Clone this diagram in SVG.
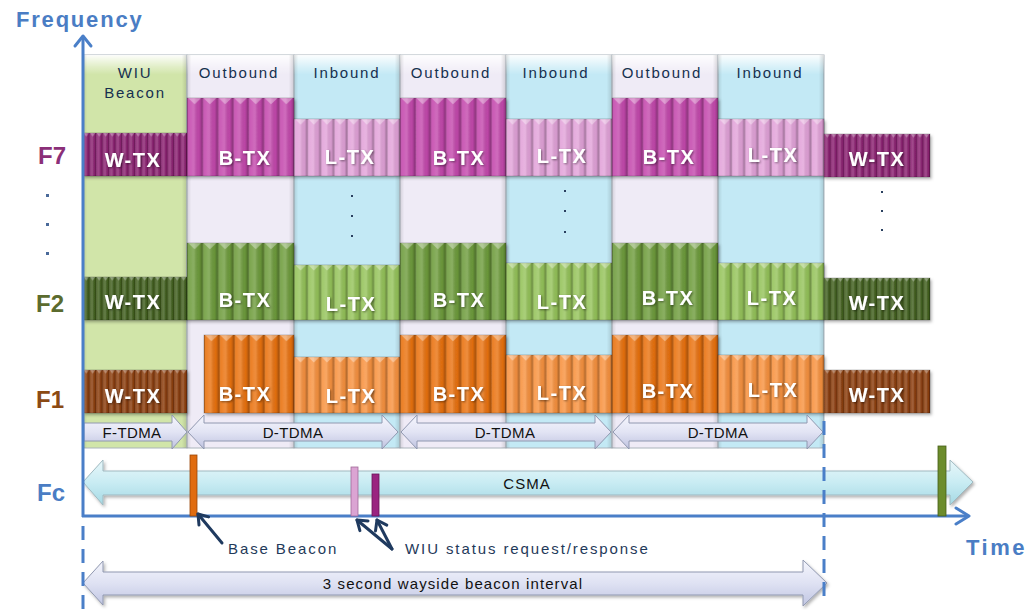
<svg xmlns="http://www.w3.org/2000/svg" width="1029" height="610" viewBox="0 0 1029 610">
<defs>
<style>
.hdr{font-family:"Liberation Sans",Arial,sans-serif;font-size:15px;fill:#16304f;letter-spacing:1.8px;text-anchor:middle}
.tx{font-family:"Liberation Sans",Arial,sans-serif;font-size:20px;font-weight:bold;fill:#fff;text-anchor:middle;letter-spacing:1.5px}
.flab{font-family:"Liberation Sans",Arial,sans-serif;font-size:24px;font-weight:bold}
.tdma{font-family:"Liberation Sans",Arial,sans-serif;font-size:15px;fill:#111;text-anchor:middle;letter-spacing:0.4px}
.ann{font-family:"Liberation Sans",Arial,sans-serif;font-size:15px;fill:#1f3a5a;letter-spacing:1.9px}
.axis{stroke:#4a7fc8;stroke-width:3;fill:none}
.dash{stroke:#4a7fc8;stroke-width:3;fill:none;stroke-dasharray:14 9}
.col{stroke:#aab3bb;stroke-width:1}
.bar{stroke:rgba(0,0,0,0.25);stroke-width:0.8}
.conn{stroke:#1f3a5f;stroke-width:3;fill:none;stroke-linecap:round;stroke-linejoin:round}
.dot{fill:#4a6a9a}
.cdot{fill:#2a4060}
.tdarrow{fill:url(#tdG);stroke:#9098b0;stroke-width:1}
</style>
<linearGradient id="ribG" x1="0" y1="0" x2="1" y2="0">
<stop offset="0" stop-color="#000" stop-opacity="0.35"/>
<stop offset="0.12" stop-color="#fff" stop-opacity="0.1"/>
<stop offset="0.45" stop-color="#fff" stop-opacity="0.2"/>
<stop offset="0.8" stop-color="#000" stop-opacity="0.04"/>
<stop offset="1" stop-color="#000" stop-opacity="0.3"/>
</linearGradient>
<pattern id="p6" patternUnits="objectBoundingBox" patternContentUnits="objectBoundingBox" width="0.166667" height="1">
<rect x="0" y="0" width="0.166667" height="1" fill="url(#ribG)"/>
<polygon points="0.01,0 0.156667,0 0.083333,0.08" fill="#fff" fill-opacity="0.35"/>
</pattern>
<pattern id="p7" patternUnits="objectBoundingBox" patternContentUnits="objectBoundingBox" width="0.142857" height="1">
<rect x="0" y="0" width="0.142857" height="1" fill="url(#ribG)"/>
<polygon points="0.01,0 0.132857,0 0.071428,0.08" fill="#fff" fill-opacity="0.35"/>
</pattern>
<pattern id="p8" patternUnits="objectBoundingBox" patternContentUnits="objectBoundingBox" width="0.125" height="1">
<rect x="0" y="0" width="0.125" height="1" fill="url(#ribG)"/>
<polygon points="0.01,0 0.115,0 0.0625,0.1" fill="#fff" fill-opacity="0.35"/>
</pattern>
<pattern id="p16" patternUnits="objectBoundingBox" patternContentUnits="objectBoundingBox" width="0.0625" height="1">
<rect x="0" y="0" width="0.0625" height="1" fill="url(#ribG)"/>
<polygon points="0.005,0 0.0575,0 0.03125,0.09" fill="#fff" fill-opacity="0.3"/>
</pattern>
<linearGradient id="colTop" x1="0" y1="0" x2="0" y2="1">
<stop offset="0" stop-color="#fff" stop-opacity="0.95"/>
<stop offset="0.03" stop-color="#fff" stop-opacity="0.35"/>
<stop offset="0.05" stop-color="#fff" stop-opacity="0"/>
<stop offset="1" stop-color="#fff" stop-opacity="0"/>
</linearGradient>
<linearGradient id="colSide" x1="0" y1="0" x2="1" y2="0">
<stop offset="0" stop-color="#000" stop-opacity="0.12"/>
<stop offset="0.04" stop-color="#000" stop-opacity="0"/>
<stop offset="0.95" stop-color="#000" stop-opacity="0"/>
<stop offset="1" stop-color="#000" stop-opacity="0.14"/>
</linearGradient>
<linearGradient id="tdG" x1="0" y1="0" x2="0" y2="1">
<stop offset="0" stop-color="#f6f6fd"/>
<stop offset="0.5" stop-color="#e2e4f4"/>
<stop offset="1" stop-color="#bfc3e0"/>
</linearGradient>
<linearGradient id="csG" x1="0" y1="0" x2="0" y2="1">
<stop offset="0" stop-color="#e8f7fa"/>
<stop offset="0.5" stop-color="#c9ecf3"/>
<stop offset="1" stop-color="#a5d9e4"/>
</linearGradient>
<linearGradient id="wbG" x1="0" y1="0" x2="0" y2="1">
<stop offset="0" stop-color="#f4f5fc"/>
<stop offset="0.5" stop-color="#dfe2f3"/>
<stop offset="1" stop-color="#c0c5e2"/>
</linearGradient>
<filter id="sh" x="-10%" y="-10%" width="125%" height="130%">
<feDropShadow dx="1.5" dy="2" stdDeviation="1.5" flood-color="#000" flood-opacity="0.3"/>
</filter>
<filter id="tsh" x="-10%" y="-20%" width="130%" height="150%">
<feDropShadow dx="1" dy="1" stdDeviation="0.8" flood-color="#000" flood-opacity="0.45"/>
</filter>
</defs>
<rect x="0" y="0" width="1029" height="610" fill="#fff"/>

<g id="columns">
<g id="col-wiu"><rect class="col" x="83" y="55" width="104" height="393" fill="#d1e5a9"/><rect x="83" y="55" width="104" height="393" fill="url(#colTop)"/><rect x="83" y="55" width="104" height="393" fill="url(#colSide)"/><text class="hdr" x="135" y="78">WIU</text><text class="hdr" x="135" y="98">Beacon</text></g>
<g id="col-out1"><rect class="col" x="187" y="55" width="107" height="393" fill="#efebf6"/><rect x="187" y="55" width="107" height="393" fill="url(#colTop)"/><rect x="187" y="55" width="107" height="393" fill="url(#colSide)"/><text class="hdr" x="239" y="78">Outbound</text></g>
<g id="col-in1"><rect class="col" x="294" y="55" width="106" height="393" fill="#c3e9f5"/><rect x="294" y="55" width="106" height="393" fill="url(#colTop)"/><rect x="294" y="55" width="106" height="393" fill="url(#colSide)"/><text class="hdr" x="347" y="78">Inbound</text></g>
<g id="col-out2"><rect class="col" x="400" y="55" width="106" height="393" fill="#efebf6"/><rect x="400" y="55" width="106" height="393" fill="url(#colTop)"/><rect x="400" y="55" width="106" height="393" fill="url(#colSide)"/><text class="hdr" x="451" y="78">Outbound</text></g>
<g id="col-in2"><rect class="col" x="506" y="55" width="106" height="393" fill="#c3e9f5"/><rect x="506" y="55" width="106" height="393" fill="url(#colTop)"/><rect x="506" y="55" width="106" height="393" fill="url(#colSide)"/><text class="hdr" x="556" y="78">Inbound</text></g>
<g id="col-out3"><rect class="col" x="612" y="55" width="106" height="393" fill="#efebf6"/><rect x="612" y="55" width="106" height="393" fill="url(#colTop)"/><rect x="612" y="55" width="106" height="393" fill="url(#colSide)"/><text class="hdr" x="662" y="78">Outbound</text></g>
<g id="col-in3"><rect class="col" x="718" y="55" width="106" height="393" fill="#c3e9f5"/><rect x="718" y="55" width="106" height="393" fill="url(#colTop)"/><rect x="718" y="55" width="106" height="393" fill="url(#colSide)"/><text class="hdr" x="770" y="78">Inbound</text></g>
</g>

<g id="dots">
<rect class="dot" x="46" y="194" width="3" height="3"/>
<rect class="dot" x="46" y="223" width="3" height="3"/>
<rect class="dot" x="46" y="252" width="3" height="3"/>
<rect class="cdot" x="351" y="195" width="2" height="2"/>
<rect class="cdot" x="351" y="215" width="2" height="2"/>
<rect class="cdot" x="351" y="235" width="2" height="2"/>
<rect class="cdot" x="564" y="190" width="2" height="2"/>
<rect class="cdot" x="564" y="210" width="2" height="2"/>
<rect class="cdot" x="564" y="231" width="2" height="2"/>
<rect class="cdot" x="881" y="191" width="2" height="2"/>
<rect class="cdot" x="881" y="210" width="2" height="2"/>
<rect class="cdot" x="881" y="229" width="2" height="2"/>
</g>

<g id="row-f7">
<g id="f7-wtx-1" filter="url(#sh)"><rect class="bar" x="83" y="133" width="104" height="43" fill="#8c2272"/><rect x="83" y="133" width="104" height="43" fill="url(#p16)"/></g>
<g id="f7-btx-1" filter="url(#sh)"><rect class="bar" x="187" y="98" width="107" height="78" fill="#c448ad"/><rect x="187" y="98" width="107" height="78" fill="url(#p7)"/></g>
<g id="f7-ltx-1" filter="url(#sh)"><rect class="bar" x="294" y="119" width="106" height="57" fill="#e2a2d9"/><rect x="294" y="119" width="106" height="57" fill="url(#p8)"/></g>
<g id="f7-btx-2" filter="url(#sh)"><rect class="bar" x="400" y="98" width="106" height="78" fill="#c448ad"/><rect x="400" y="98" width="106" height="78" fill="url(#p7)"/></g>
<g id="f7-ltx-2" filter="url(#sh)"><rect class="bar" x="506" y="119" width="106" height="57" fill="#e2a2d9"/><rect x="506" y="119" width="106" height="57" fill="url(#p8)"/></g>
<g id="f7-btx-3" filter="url(#sh)"><rect class="bar" x="612" y="98" width="106" height="78" fill="#c448ad"/><rect x="612" y="98" width="106" height="78" fill="url(#p7)"/></g>
<g id="f7-ltx-3" filter="url(#sh)"><rect class="bar" x="718" y="119" width="106" height="57" fill="#e2a2d9"/><rect x="718" y="119" width="106" height="57" fill="url(#p8)"/></g>
<g id="f7-wtx-2" filter="url(#sh)"><rect class="bar" x="824" y="134" width="106" height="43" fill="#8c2272"/><rect x="824" y="134" width="106" height="43" fill="url(#p16)"/></g>
</g>

<g id="row-f2">
<g id="f2-wtx-1" filter="url(#sh)"><rect class="bar" x="83" y="277" width="104" height="43" fill="#42601f"/><rect x="83" y="277" width="104" height="43" fill="url(#p16)"/></g>
<g id="f2-btx-1" filter="url(#sh)"><rect class="bar" x="187" y="243" width="107" height="77" fill="#6e9c3c"/><rect x="187" y="243" width="107" height="77" fill="url(#p7)"/></g>
<g id="f2-ltx-1" filter="url(#sh)"><rect class="bar" x="294" y="265" width="106" height="55" fill="#95c35a"/><rect x="294" y="265" width="106" height="55" fill="url(#p8)"/></g>
<g id="f2-btx-2" filter="url(#sh)"><rect class="bar" x="400" y="243" width="106" height="77" fill="#6e9c3c"/><rect x="400" y="243" width="106" height="77" fill="url(#p7)"/></g>
<g id="f2-ltx-2" filter="url(#sh)"><rect class="bar" x="506" y="263" width="106" height="57" fill="#95c35a"/><rect x="506" y="263" width="106" height="57" fill="url(#p8)"/></g>
<g id="f2-btx-3" filter="url(#sh)"><rect class="bar" x="612" y="243" width="106" height="77" fill="#6e9c3c"/><rect x="612" y="243" width="106" height="77" fill="url(#p7)"/></g>
<g id="f2-ltx-3" filter="url(#sh)"><rect class="bar" x="718" y="263" width="106" height="57" fill="#95c35a"/><rect x="718" y="263" width="106" height="57" fill="url(#p8)"/></g>
<g id="f2-wtx-2" filter="url(#sh)"><rect class="bar" x="824" y="278" width="106" height="42" fill="#42601f"/><rect x="824" y="278" width="106" height="42" fill="url(#p16)"/></g>
</g>

<g id="row-f1">
<g id="f1-wtx-1" filter="url(#sh)"><rect class="bar" x="83" y="370" width="104" height="43" fill="#8c3e0e"/><rect x="83" y="370" width="104" height="43" fill="url(#p16)"/></g>
<g id="f1-btx-1" filter="url(#sh)"><rect class="bar" x="204" y="335" width="90" height="78" fill="#ea720f"/><rect x="204" y="335" width="90" height="78" fill="url(#p6)"/></g>
<g id="f1-ltx-1" filter="url(#sh)"><rect class="bar" x="294" y="357" width="106" height="56" fill="#f8923f"/><rect x="294" y="357" width="106" height="56" fill="url(#p8)"/></g>
<g id="f1-btx-2" filter="url(#sh)"><rect class="bar" x="400" y="335" width="106" height="78" fill="#ea720f"/><rect x="400" y="335" width="106" height="78" fill="url(#p7)"/></g>
<g id="f1-ltx-2" filter="url(#sh)"><rect class="bar" x="506" y="355" width="106" height="58" fill="#f8923f"/><rect x="506" y="355" width="106" height="58" fill="url(#p8)"/></g>
<g id="f1-btx-3" filter="url(#sh)"><rect class="bar" x="612" y="335" width="106" height="78" fill="#ea720f"/><rect x="612" y="335" width="106" height="78" fill="url(#p7)"/></g>
<g id="f1-ltx-3" filter="url(#sh)"><rect class="bar" x="718" y="355" width="106" height="58" fill="#f8923f"/><rect x="718" y="355" width="106" height="58" fill="url(#p8)"/></g>
<g id="f1-wtx-2" filter="url(#sh)"><rect class="bar" x="824" y="370" width="106" height="43" fill="#8c3e0e"/><rect x="824" y="370" width="106" height="43" fill="url(#p16)"/></g>
</g>

<g id="bar-labels" filter="url(#tsh)">
<text class="tx" x="133" y="167">W-TX</text>
<text class="tx" x="245" y="165">B-TX</text>
<text class="tx" x="350" y="164">L-TX</text>
<text class="tx" x="459" y="165">B-TX</text>
<text class="tx" x="562" y="163">L-TX</text>
<text class="tx" x="669" y="164">B-TX</text>
<text class="tx" x="773" y="162">L-TX</text>
<text class="tx" x="877" y="166">W-TX</text>
<text class="tx" x="133" y="309">W-TX</text>
<text class="tx" x="245" y="307">B-TX</text>
<text class="tx" x="351" y="311">L-TX</text>
<text class="tx" x="459" y="307">B-TX</text>
<text class="tx" x="562" y="309">L-TX</text>
<text class="tx" x="668" y="305">B-TX</text>
<text class="tx" x="772" y="305">L-TX</text>
<text class="tx" x="877" y="310">W-TX</text>
<text class="tx" x="133" y="403">W-TX</text>
<text class="tx" x="245" y="401">B-TX</text>
<text class="tx" x="351" y="403">L-TX</text>
<text class="tx" x="459" y="401">B-TX</text>
<text class="tx" x="562" y="400">L-TX</text>
<text class="tx" x="668" y="398">B-TX</text>
<text class="tx" x="773" y="397">L-TX</text>
<text class="tx" x="877" y="402">W-TX</text>
</g>

<g id="tdma">
<g id="f-tdma"><path class="tdarrow" d="M84,423 L172,423 L172,415 L187,432 L172,449 L172,441 L84,441 Z"/><text class="tdma" x="132" y="438">F-TDMA</text></g>
<g id="d-tdma-1"><path class="tdarrow" d="M188,432 L204,415 L204,423 L382,423 L382,415 L398,432 L382,449 L382,441 L204,441 L204,449 Z"/><text class="tdma" x="293" y="438">D-TDMA</text></g>
<g id="d-tdma-2"><path class="tdarrow" d="M401,432 L417,415 L417,423 L595,423 L595,415 L611,432 L595,449 L595,441 L417,441 L417,449 Z"/><text class="tdma" x="505" y="438">D-TDMA</text></g>
<g id="d-tdma-3"><path class="tdarrow" d="M613,432 L629,415 L629,423 L807,423 L807,415 L823,432 L807,449 L807,441 L629,441 L629,449 Z"/><text class="tdma" x="718" y="438">D-TDMA</text></g>
</g>

<g id="csma"><path d="M83,482 L103,460 L103,471 L950,471 L950,460 L973,482 L950,505 L950,495 L103,495 L103,505 Z" fill="url(#csG)" stroke="#9fb9c0" stroke-width="1" filter="url(#sh)"/><text class="tdma" x="527" y="489" style="letter-spacing:1px">CSMA</text></g>

<g id="interval"><path d="M83,583 L103,561 L103,572 L803,572 L803,560 L827,583 L803,606 L803,595 L103,595 L103,605 Z" fill="url(#wbG)" stroke="#9098b0" stroke-width="1" filter="url(#sh)"/><text x="453" y="589" style="font-family:'Liberation Sans',Arial,sans-serif;font-size:15px;fill:#111;letter-spacing:1.1px;text-anchor:middle">3 second wayside beacon interval</text></g>

<g id="axes">
<line class="axis" x1="83" y1="37" x2="83" y2="517"/>
<polyline class="axis" points="75,46 83,36 91,46" stroke-linecap="round" stroke-linejoin="round"/>
<line class="axis" x1="82" y1="516" x2="968" y2="516"/>
<polyline class="axis" points="956,508 969,516 956,524" stroke-linecap="round" stroke-linejoin="round"/>
<line class="dash" x1="83" y1="526" x2="83" y2="610"/>
<line class="dash" x1="824" y1="421" x2="824" y2="602"/>
<text x="16" y="27" style="font-family:'Liberation Sans',Arial,sans-serif;font-size:22px;font-weight:bold;fill:#4a7dc4;letter-spacing:1.8px">Frequency</text>
<text x="966" y="555" style="font-family:'Liberation Sans',Arial,sans-serif;font-size:22px;font-weight:bold;fill:#4a7dc4;letter-spacing:2.5px">Time</text>
</g>

<g id="freq-labels">
<text class="flab" x="38" y="164" fill="#8b2f78">F7</text>
<text class="flab" x="36" y="312" fill="#5b6b2e">F2</text>
<text class="flab" x="36" y="408" fill="#8b4a14">F1</text>
<text class="flab" x="37" y="501" fill="#4a7dc4">Fc</text>
</g>

<g id="events">
<g id="base-beacon"><rect x="190" y="455" width="7" height="61" fill="#e06c10" stroke="#9a4608" stroke-width="0.8"/></g>
<g id="wiu-request"><rect x="351" y="467" width="7" height="49" fill="#dba4d3" stroke="#a06a98" stroke-width="0.8"/></g>
<g id="wiu-response"><rect x="372" y="474" width="7" height="42" fill="#9a2480" stroke="#6a1558" stroke-width="0.8"/></g>
<g id="next-beacon"><rect x="938" y="446" width="8" height="70" fill="#6c8c2c" stroke="#465e18" stroke-width="0.8"/></g>
</g>

<g id="connectors">
<line class="conn" x1="222" y1="543" x2="198" y2="514"/>
<polyline class="conn" points="199,525 198,514 208.6,516.9"/>
<line class="conn" x1="392" y1="549" x2="357" y2="520"/>
<polyline class="conn" points="359.9,530.6 357,520 368,520.9"/>
<line class="conn" x1="392" y1="549" x2="377" y2="520"/>
<polyline class="conn" points="375.5,530.9 377,520 386.8,525.1"/>
</g>

<g id="annotations">
<text class="ann" x="228" y="554">Base Beacon</text>
<text class="ann" x="405" y="554">WIU status request/response</text>
</g>
</svg>
